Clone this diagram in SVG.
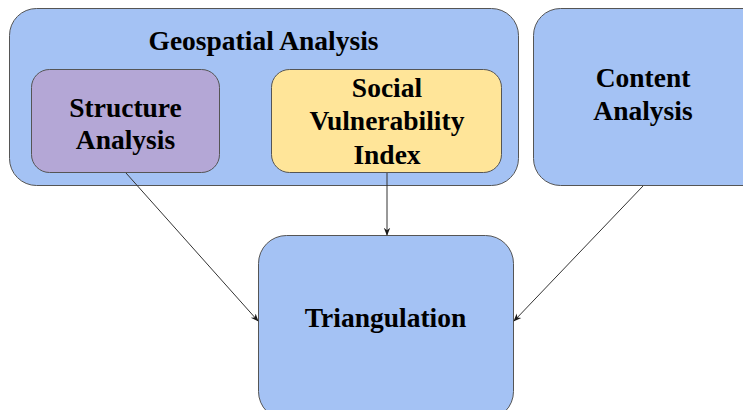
<svg xmlns="http://www.w3.org/2000/svg" width="743" height="410" viewBox="0 0 743 410">
  <defs>
    <marker id="arrow" viewBox="0 0 10 10" refX="9" refY="5" markerWidth="8" markerHeight="8" orient="auto" markerUnits="userSpaceOnUse">
      <path d="M0,1 L10,5 L0,9 L3,5 Z" fill="#1a1a1a"/>
    </marker>
    <style>
      .box { stroke: #555555; stroke-width: 1; }
      .blue { fill: #a4c2f4; }
      .purple { fill: #b4a7d6; }
      .yellow { fill: #ffe599; }
      .label { font-family: 'Liberation Serif', serif; font-weight: bold; font-size: 27.5px; fill: #000; text-anchor: middle; }
      .edge { stroke: #333; stroke-width: 1; fill: none; marker-end: url(#arrow); }
    </style>
  </defs>
  <rect width="743" height="410" fill="#ffffff"/>

  <g id="geospatial">
    <rect class="box blue" x="9.5" y="8.5" width="509" height="177" rx="27"/>
    <text class="label" x="263.5" y="50">Geospatial Analysis</text>
  </g>

  <g id="structure">
    <rect class="box purple" x="31.5" y="69.5" width="188" height="103" rx="18"/>
    <text class="label" x="125.5" y="117">Structure</text>
    <text class="label" x="125.5" y="149">Analysis</text>
  </g>

  <g id="svi">
    <rect class="box yellow" x="271.5" y="69.5" width="230" height="103" rx="18"/>
    <text class="label" x="387" y="97">Social</text>
    <text class="label" x="387" y="130">Vulnerability</text>
    <text class="label" x="387" y="164">Index</text>
  </g>

  <g id="content">
    <rect class="box blue" x="533.5" y="8.5" width="240" height="177" rx="27"/>
    <text class="label" x="643" y="87">Content</text>
    <text class="label" x="643" y="120">Analysis</text>
  </g>

  <g id="triangulation">
    <rect class="box blue" x="258.5" y="235.5" width="255" height="184" rx="28"/>
    <text class="label" x="385.5" y="327">Triangulation</text>
  </g>

  <g id="connectors">
    <line class="edge" x1="126" y1="173" x2="258" y2="321"/>
    <line class="edge" x1="387" y1="173" x2="387" y2="235"/>
    <line class="edge" x1="643" y1="186" x2="514" y2="321"/>
  </g>
</svg>
